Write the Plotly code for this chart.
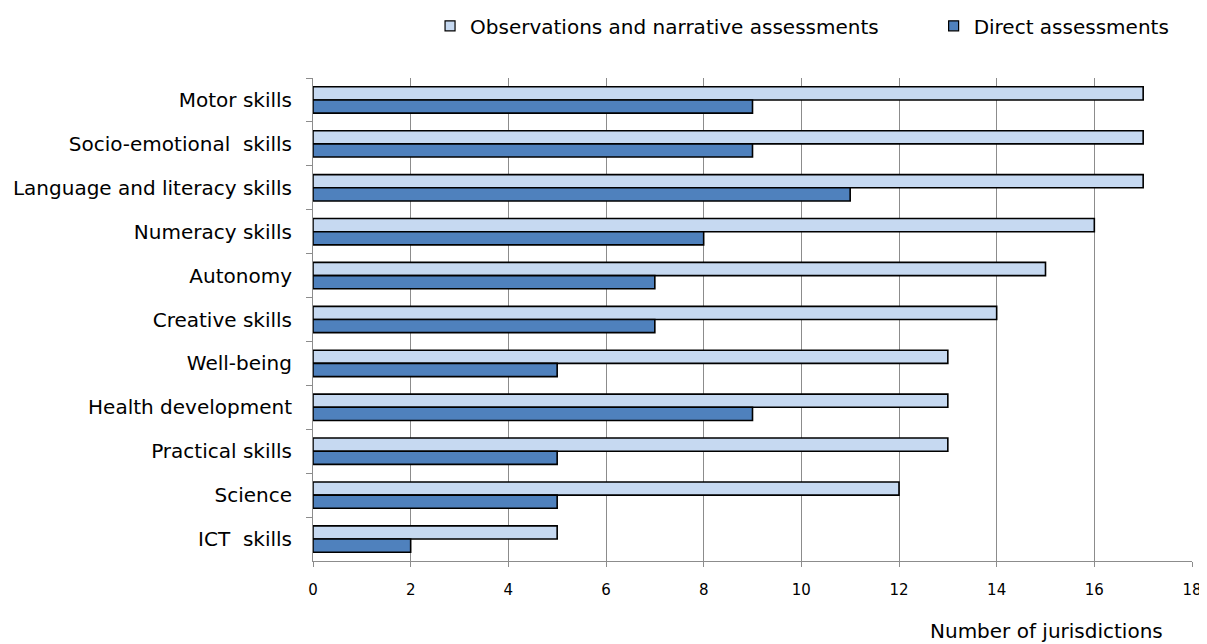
import plotly.graph_objects as go

categories = ["Motor skills", "Socio-emotional  skills", "Language and literacy skills",
              "Numeracy skills", "Autonomy", "Creative skills", "Well-being",
              "Health development", "Practical skills", "Science", "ICT  skills"]
observations = [17, 17, 17, 16, 15, 14, 13, 13, 13, 12, 5]
direct = [9, 9, 11, 8, 7, 7, 5, 9, 5, 5, 2]
x_ticks = [0, 2, 4, 6, 8, 10, 12, 14, 16, 18]
series_names = ["Observations and narrative assessments", "Direct assessments"]
series_colors = ["#c6d9f1", "#4f81bd"]

FONT = "DejaVu Sans, Verdana, sans-serif"

fig = go.Figure()
for vals, name, col in zip([observations, direct], series_names, series_colors):
    fig.add_trace(go.Bar(y=categories, x=vals, orientation="h", name=name,
                         showlegend=False,
                         marker=dict(color=col, line=dict(color="#000000", width=1.6))))

# legend entries with small square symbols
for i, (name, col) in enumerate(zip(series_names, series_colors)):
    fig.add_trace(go.Scatter(x=[None], y=[None], mode="markers", name=name,
                             legend="legend" if i == 0 else "legend2",
                             marker=dict(symbol="square", size=10, color=col,
                                         line=dict(color="#000000", width=1.2))))

legend_common = dict(orientation="h", xref="container", yref="container",
                     xanchor="left", yanchor="middle", y=0.972,
                     font=dict(family=FONT, size=20, color="#000000"),
                     bgcolor="rgba(0,0,0,0)", itemwidth=30)

fig.update_layout(
    width=1199, height=636,
    margin=dict(l=305, r=15, t=70, b=83, autoexpand=False),
    paper_bgcolor="white", plot_bgcolor="white",
    font=dict(family=FONT, size=20, color="#000000"),
    barmode="group", bargap=0.4, bargroupgap=0.0,
    legend=dict(x=0.352, **legend_common),
    legend2=dict(x=0.772, **legend_common),
)
fig.update_xaxes(range=[0, 18], tickvals=x_ticks, showgrid=True, gridcolor="#8c8c8c",
                 gridwidth=1, showline=True, linecolor="#8c8c8c", linewidth=1,
                 ticks="outside", tickcolor="#8c8c8c", ticklen=5, zeroline=False,
                 ticklabelstandoff=10, automargin=False, ticklabeloverflow="allow",
                 tickfont=dict(family=FONT, size=15, color="#000000"))
fig.update_yaxes(autorange="reversed", showline=True, linecolor="#8c8c8c", linewidth=1,
                 ticks="outside", tickson="boundaries", tickcolor="#8c8c8c", ticklen=6,
                 showgrid=False, ticklabelstandoff=16, automargin=False,
                 tickfont=dict(family=FONT, size=20, color="#000000"))
fig.add_annotation(text="Number of jurisdictions", xref="paper", yref="paper",
                   x=0.969, y=-0.145, xanchor="right", yanchor="middle",
                   showarrow=False, font=dict(family=FONT, size=20, color="#000000"))

fig.write_html("out.html")
